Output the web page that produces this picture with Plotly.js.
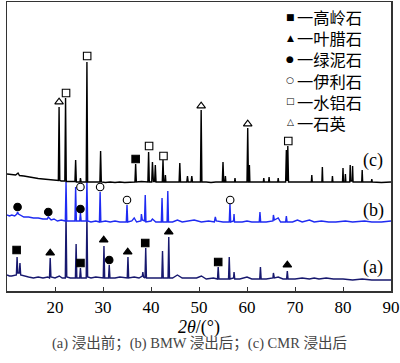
<!DOCTYPE html>
<html>
<head>
<meta charset="utf-8">
<script src="https://cdn.plot.ly/plotly-3.0.1.min.js"></script>
<style>html,body{margin:0;padding:0;background:#fff}#chart{width:400px;height:363px}</style>
</head>
<body>
<div id="chart"></div>
<script>
// XRD patterns, [2theta, intensity (a.u.)]
const patternC = [[10,110],[11,109.5],[11.8,109],[12.3,111],[12.6,108.5],[13.5,108],[14.5,107],[15.5,106.5],[16.5,105.5],[17.5,105],[18.5,104.5],[19.5,104],[20.5,103.5],[20.7,103.5],[20.85,177],[21.0,103.5],[21.3,103],[22.05,103],[22.2,186],[22.35,102.5],[23,102.5],[24.15,102.5],[24.3,124],[24.45,102],[25.2,102],[25.3,106],[25.45,102],[26.5,102],[26.65,222],[26.8,102],[27.5,102],[28.5,102],[29.35,102],[29.5,133],[29.65,102],[30.5,101.5],[31.5,102],[32.5,101.5],[33.5,102],[34.5,101.5],[35.5,102],[36.65,102],[36.8,120],[36.95,102],[38,102.5],[39.35,102],[39.5,132],[39.65,102],[40.15,102],[40.3,122],[40.5,102.5],[40.75,102.5],[40.9,119],[41.05,102],[42.35,102],[42.5,124],[42.65,102],[42.9,102],[43.0,109],[43.1,102],[44.5,102],[45.85,102],[46.0,121],[46.15,102],[47.45,102],[47.6,108],[47.75,102],[48.35,102],[48.5,108],[48.65,102],[49.5,102],[50.3,102],[50.45,174],[50.6,102],[51.5,102],[52.5,101.5],[53.5,102],[54.85,102],[55.0,122],[55.15,102],[55.4,102],[55.5,108],[55.6,102],[57.4,102],[57.5,106],[57.6,102],[60.0,102],[60.15,156],[60.3,102],[60.4,102],[60.5,119],[60.6,102],[62,102],[63.4,102],[63.5,106],[63.6,102],[64.5,102],[64.6,107],[64.7,102],[66.4,102],[66.5,106],[66.6,102],[68.05,102],[68.2,134],[68.35,103],[68.5,138],[68.65,102],[70,102],[72,101.5],[73.4,102],[73.5,109],[73.6,102],[75.6,102],[75.7,117],[75.8,102],[77.7,102],[77.8,108],[77.9,102],[79.9,102],[80.0,116],[80.1,102],[80.4,102],[80.5,110],[80.6,102],[81.4,102],[81.5,119],[81.6,103],[81.9,103],[82.0,118],[82.1,102],[83.9,102],[84.0,114],[84.1,102],[85.9,102],[86.0,105],[86.1,102],[88,101.5],[90,102]];
const patternB = [[10,69],[10.5,68],[11,69],[11.6,68],[12.05,70],[12.2,72],[12.4,70],[13,68],[13.5,67],[14.5,67],[15.5,66],[16.5,66],[17.5,65],[18.4,65],[18.6,67],[18.8,66],[19.2,64],[19.8,65],[20.5,63],[21.3,64],[22.15,63],[22.3,102],[22.45,63],[23.2,63],[24.15,63],[24.3,97],[24.45,63],[25.15,63],[25.3,71],[25.45,63],[26.5,63],[26.65,102],[26.8,63],[27.5,62],[28.5,63],[29.25,62],[29.4,92],[29.55,62],[30.5,63],[31.5,62],[32.5,63],[33.5,62],[34.85,62],[35.0,79],[35.15,62],[36.0,63],[36.5,66],[37,62],[37.9,63],[38.0,70],[38.2,64],[38.65,63],[38.8,89],[38.95,62],[40,63],[40.3,65],[41,62],[42.15,62],[42.3,86],[42.45,62],[43.35,62],[43.5,93],[43.65,62],[44.5,62],[45.5,64],[46.5,62],[48,63],[49,64],[50.5,62],[52,63],[53.2,62],[53.4,67],[53.6,63],[55,62],[56.3,62],[56.45,80],[56.6,62],[57.2,63],[57.3,70],[57.4,62],[59,62],[60,63],[61,62],[62.55,62],[62.7,72],[62.85,62],[64,62],[65.4,63],[65.5,69],[65.7,64],[66.5,66],[67,62],[68.05,62],[68.2,68],[68.35,62],[69.5,62],[70.5,64],[71.5,62],[73,64],[74,62],[75.5,63],[77,62],[78.5,62],[80.5,63],[82,62],[84.5,63],[86,62],[88,62],[90,63]];
const patternA = [[10,9],[10.5,8],[11,8],[11.6,9],[11.95,9],[12.1,27],[12.25,11],[12.55,11],[12.7,21],[12.85,9],[13.5,8],[14.5,7],[15.5,6],[16.5,7],[17.5,6],[18.5,7],[18.85,6],[19.0,26],[19.15,7],[20,6],[20.9,8],[21.5,6],[22.15,6],[22.3,70],[22.45,7],[23.2,6],[24.25,6],[24.4,40],[24.55,6],[25.15,6],[25.3,16],[25.45,6],[26.5,6],[26.65,70],[26.8,7],[27.5,6],[28.5,7],[29.5,6],[30.05,6],[30.2,38],[30.35,6],[31.15,6],[31.3,19],[31.45,6],[32.5,6],[33.5,7],[34.5,6],[35.05,6],[35.2,27],[35.35,6],[36.5,7],[37.5,6],[38.2,8],[38.3,12],[38.45,7],[38.75,6],[38.9,36],[39.05,6],[40,6],[41,6],[42.25,6],[42.4,33],[42.55,6],[43.55,6],[43.7,47],[43.85,6],[44.5,6],[45.5,9],[46.5,6],[48,6],[49.5,6],[50.5,8],[51.5,5],[53,6],[53.85,5],[54.0,17],[54.15,5],[55,5],[56.15,5],[56.3,27],[56.45,5],[57.2,6],[57.3,12],[57.45,5],[58.5,5],[60,7],[61,5],[62.65,5],[62.8,17],[62.95,5],[64,5],[65.4,6],[65.5,11],[65.7,6],[66.5,7],[67.5,5],[68.25,5],[68.4,13],[68.55,5],[70,5],[71.5,6],[73,5],[74,6],[75,5],[76.5,6],[78,5],[80,5],[82,4],[84,5],[86,4],[88,4],[90,4]];

// phase markers [2theta, height]
const kaolinite = [[36.8,125],[12.0,34],[25.3,21],[38.8,41],[54.0,22]];
const pyrophyllite = [[19.0,31],[30.15,44],[35.15,32],[43.7,52],[68.4,19]];
const chlorite = [[12.2,77],[18.6,72],[25.3,75],[31.3,24]];
const illite = [[25.3,97],[29.4,97],[35.0,84],[56.5,84]];
const boehmite = [[22.3,191],[26.7,228],[39.6,138],[42.6,128],[68.6,143]];
const quartz = [[20.85,182],[50.45,178],[60.15,160]];

const phaseNames = ['高岭石','叶腊石','绿泥石','伊利石','水铝石','石英'];
const phaseGlyphs = ['■','▲','●','○','□','△'];
const patternLabels = ['(a)','(b)','(c)'];
const xTicks = [10,20,30,40,50,60,70,80,90];

const FONT = 'Liberation Serif, Times New Roman, Noto Sans CJK SC, serif';
const CJK = 'Noto Sans CJK SC, Liberation Serif, sans-serif';
const col = p => p.map(d => d[0]);
const val = p => p.map(d => d[1]);

function line(p, color) {
  return {x: col(p), y: val(p), type: 'scatter', mode: 'lines', showlegend: false,
    line: {color: color, width: 1.4}, hoverinfo: 'skip'};
}
function marks(p, name, symbol) {
  return {x: col(p), y: val(p), type: 'scatter', mode: 'markers', name: name, showlegend: false,
    marker: {symbol: symbol, size: 7.5, color: '#000', line: {color: '#000', width: 1.1}}};
}

const data = [
  line(patternA, '#17186e'),
  line(patternB, '#1f2bf2'),
  line(patternC, '#000000'),
  marks(kaolinite, phaseNames[0], 'square'),
  marks(pyrophyllite, phaseNames[1], 'triangle-up'),
  marks(chlorite, phaseNames[2], 'circle'),
  marks(illite, phaseNames[3], 'circle-open'),
  marks(boehmite, phaseNames[4], 'square-open'),
  marks(quartz, phaseNames[5], 'triangle-up-open')
];

// legend (pixel positions from the reference: plot spans x 7..391, y 2..291)
const legendRowsPx = [17, 38, 59, 80, 101, 122];
const legendAnn = phaseNames.map((n, i) => ({
  x: (290 - 7) / 384, y: (291 - legendRowsPx[i]) / 289, xref: 'paper', yref: 'paper',
  xanchor: 'center', yanchor: 'middle', showarrow: false, text: phaseGlyphs[i],
  font: {family: 'DejaVu Sans', size: 9, color: '#000'}}));
legendAnn.push({x: (295 - 7) / 384, y: (291 - 69.5) / 289, xref: 'paper', yref: 'paper',
  xanchor: 'left', yanchor: 'middle', align: 'left', showarrow: false,
  text: phaseNames.map(n => '一' + n).join('<br>'),
  font: {family: CJK, size: 16.3, color: '#000'}});

const layout = {
  width: 400, height: 363,
  margin: {l: 7, r: 9, t: 2, b: 72},
  paper_bgcolor: '#fff', plot_bgcolor: '#fff',
  font: {family: FONT, color: '#000', size: 17},
  showlegend: false,
  xaxis: {range: [10, 90], tickvals: xTicks, ticktext: xTicks.map(String),
    ticks: 'inside', ticklen: 4, tickcolor: '#333', tickwidth: 1,
    showline: true, mirror: true, linecolor: '#333', linewidth: 1.5,
    showgrid: false, zeroline: false,
    tickfont: {family: FONT, size: 17},
    title: {text: '<i>2θ</i>/(°)', font: {family: FONT, size: 18}, standoff: 4}},
  yaxis: {range: [-7, 282], showticklabels: false, ticks: '',
    showline: true, mirror: true, linecolor: '#333', linewidth: 1.5,
    showgrid: false, zeroline: false},
  annotations: [
    {x: 86.3, y: 17, xref: 'x', yref: 'y', text: patternLabels[0], showarrow: false, font: {family: FONT, size: 18}},
    {x: 86.3, y: 74, xref: 'x', yref: 'y', text: patternLabels[1], showarrow: false, font: {family: FONT, size: 18}},
    {x: 86.3, y: 124, xref: 'x', yref: 'y', text: patternLabels[2], showarrow: false, font: {family: FONT, size: 18}},
    {x: 0.5, y: -0.18, xref: 'paper', yref: 'paper', yanchor: 'middle', showarrow: false,
      text: '(a) 浸出前；(b) BMW 浸出后；(c) CMR 浸出后', font: {family: FONT, size: 14.5, color: '#444'}}
  ].concat(legendAnn)
};

Plotly.newPlot('chart', data, layout, {staticPlot: true, displayModeBar: false});
</script>
</body>
</html>
